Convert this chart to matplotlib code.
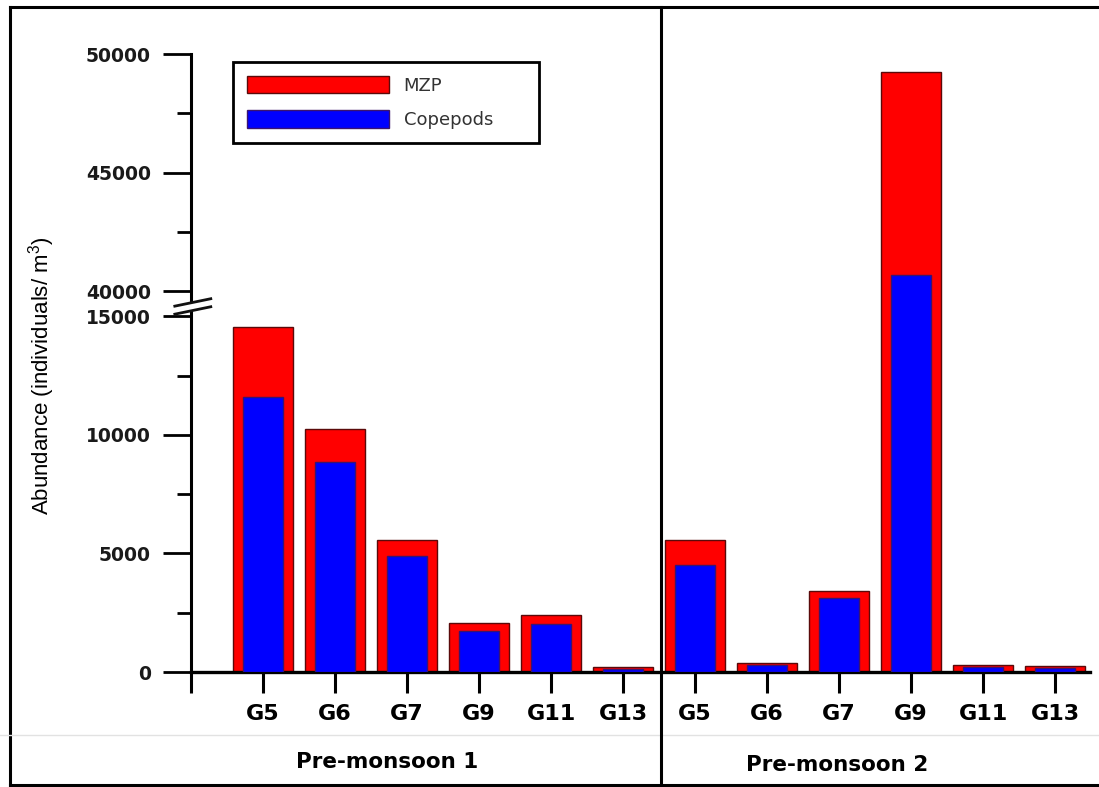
import numpy as np
import matplotlib
matplotlib.use("Agg")
import matplotlib.pyplot as plt
from matplotlib.lines import Line2D
from matplotlib.patches import Polygon
from matplotlib.transforms import blended_transform_factory

# stations sampled in each season
stations = ["G5", "G6", "G7", "G9", "G11", "G13"]
seasons = ["Pre-monsoon 1", "Pre-monsoon 2"]

# abundance (individuals/m3)
mzp_pm1 = [14550, 10250, 5550, 2080, 2420, 230]
cop_pm1 = [11600, 8850, 4870, 1740, 2030, 130]
mzp_pm2 = [5550, 400, 3430, 49250, 300, 250]
cop_pm2 = [4490, 300, 3130, 40700, 200, 170]

major_ticks = [0, 5000, 10000, 15000, 40000, 45000, 50000]
minor_ticks = [2500, 7500, 12500, 42500, 47500]

# broken y axis: 15500..39500 squeezed into a short gap
B1, B2 = 15500.0, 39500.0
OFFSET = 23946.0
GAP_TOP = B2 - OFFSET


def fwd(v):
    v = np.asarray(v, dtype=float)
    mid = B1 + (v - B1) * (GAP_TOP - B1) / (B2 - B1)
    return np.where(v <= B1, v, np.where(v >= B2, v - OFFSET, mid))


def inv(u):
    u = np.asarray(u, dtype=float)
    mid = B1 + (u - B1) * (B2 - B1) / (GAP_TOP - B1)
    return np.where(u <= B1, u, np.where(u >= GAP_TOP, u + OFFSET, mid))


W, H = 1099, 787


def fx(px):
    return px / W


def fy(py):
    return 1 - py / H


fig = plt.figure(figsize=(W / 100, H / 100), dpi=100)
ax = fig.add_axes([fx(191), fy(672), fx(1090) - fx(191), fy(54) - fy(672)])
ax.set_yscale("function", functions=(fwd, inv))

mzp = mzp_pm1 + mzp_pm2
cop = cop_pm1 + cop_pm2
x = np.arange(1, len(mzp) + 1)

red = ax.bar(x, mzp, width=0.82, color="#ff0000", edgecolor="#5a0a0a", linewidth=1.0, zorder=2, label="MZP")
blue = ax.bar(x, cop, width=0.56, color="#0000ff", edgecolor="#3a1470", linewidth=1.0, zorder=3, label="Copepods")

ax.set_xlim(0, (1090 - 191) / 72)
ax.set_ylim(0, 50000)

ax.set_xticks(np.arange(0, len(mzp) + 1))
ax.set_xticklabels([""] + stations + stations, fontfamily="DejaVu Sans", fontweight="bold", fontsize=16)
ax.tick_params(axis="x", length=15, width=2.2, pad=8, direction="out")

ax.set_yticks(major_ticks)
ax.set_yticklabels([str(t) for t in major_ticks], fontfamily="DejaVu Sans", fontweight="bold", fontsize=13.5)
ax.set_yticks(minor_ticks, minor=True)
ax.tick_params(axis="y", which="major", length=20, width=2.0, pad=9, labelcolor="#1a1a1a")
ax.tick_params(axis="y", which="minor", length=10, width=2.0)

for side in ["top", "right"]:
    ax.spines[side].set_visible(False)
ax.spines["left"].set_linewidth(2.2)
ax.spines["bottom"].set_linewidth(2.4)

ax.set_ylabel(r"Abundance (individuals/ m$\mathregular{^3}$)", fontfamily="Liberation Sans", fontsize=16)
ax.yaxis.set_label_coords(-0.149, 0.48)

# break marks on the y axis
brk = [(-0.018, 0.592), (0.022, 0.604), (0.022, 0.591), (-0.018, 0.579)]
ax.add_patch(Polygon(brk, closed=True, facecolor="white", edgecolor="none",
                     transform=ax.transAxes, clip_on=False, zorder=5))
for y0 in (0.592, 0.579):
    ax.add_line(Line2D([-0.018, 0.022], [y0, y0 + 0.012], color="#111111", lw=2.0,
                       transform=ax.transAxes, clip_on=False, zorder=6))

leg = ax.legend(handles=[red, blue], loc="upper left",
                bbox_to_anchor=((233 - 191) / 899, (672 - 146) / 618, (539 - 233) / 899, 84 / 618),
                mode="expand", borderaxespad=0, borderpad=0.75, handlelength=7.9, handleheight=1.15,
                handletextpad=0.8, labelspacing=0.85, fancybox=False, framealpha=1,
                prop={"family": "DejaVu Sans", "size": 13})
leg.get_frame().set_edgecolor("black")
leg.get_frame().set_linewidth(2.0)
for t in leg.get_texts():
    t.set_color("#333333")

# season labels under the stations
trans = blended_transform_factory(ax.transData, fig.transFigure)
for sx, sy, name in zip([2.72, 8.97], [fy(762), fy(765)], seasons):
    ax.text(sx, sy, name, transform=trans, ha="center", va="center",
            fontfamily="DejaVu Sans", fontweight="bold", fontsize=15.5, clip_on=False)

# outer frame, season divider and label separator
frame = [
    ([fx(10), 1.0], [fy(7), fy(7)]),
    ([fx(10), fx(10)], [fy(7), fy(785)]),
    ([fx(10), 1.0], [fy(785), fy(785)]),
]
for xs, ys in frame:
    fig.add_artist(Line2D(xs, ys, color="black", lw=2.2, transform=fig.transFigure))
fig.add_artist(Line2D([0, 1], [fy(735), fy(735)], color="#e2e2e2", lw=1.0, transform=fig.transFigure))
fig.add_artist(Line2D([6.53, 6.53], [fy(7), fy(785)], color="black", lw=2.2, transform=trans))

fig.savefig("out.png", dpi=100)
